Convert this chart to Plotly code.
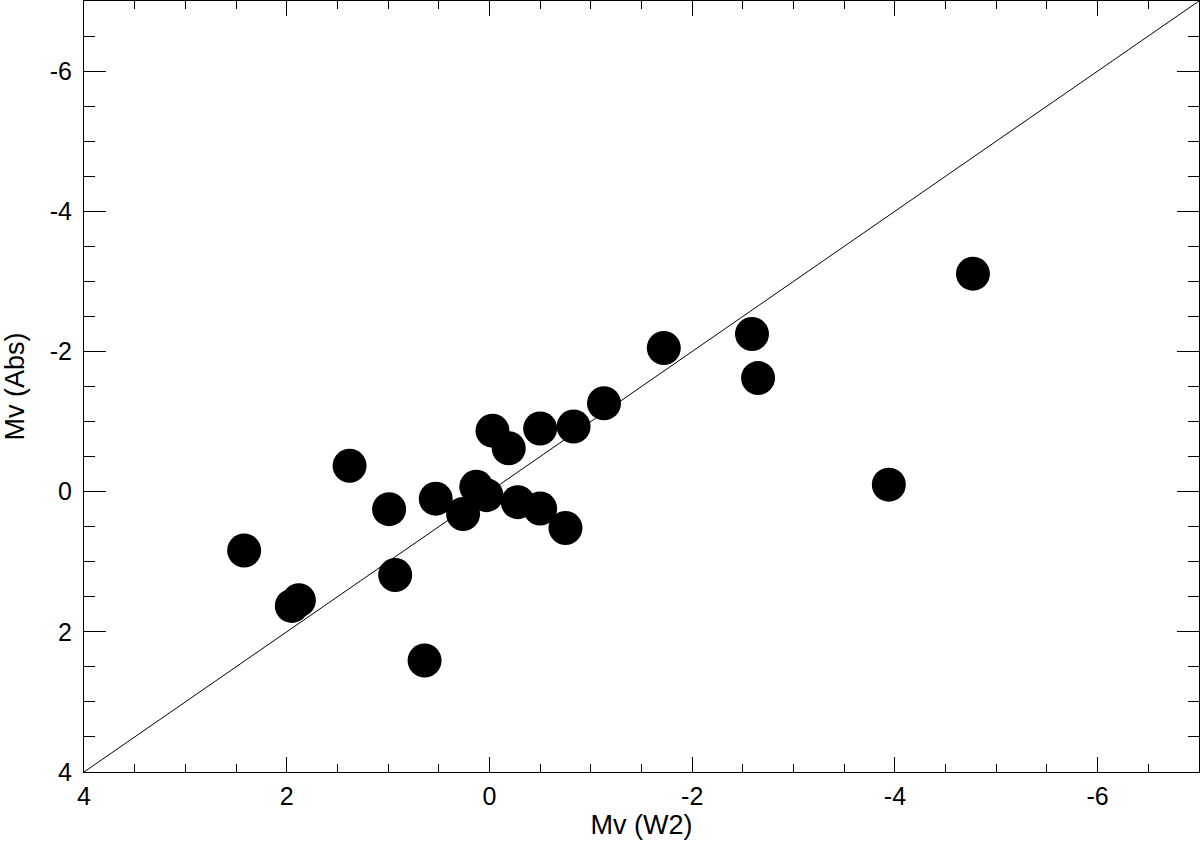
import plotly.graph_objects as go

# Mv(W2) vs Mv(Abs)
MV_W2 = [2.42, 1.95, 1.88, 1.38, 0.99, 0.93, 0.64, 0.53, 0.26, 0.13, 0.03,
         -0.03, -0.19, -0.28, -0.50, -0.50, -0.75, -0.83, -1.13, -1.72,
         -2.59, -2.65, -3.94, -4.77]
MV_ABS = [0.84, 1.63, 1.55, -0.37, 0.25, 1.19, 2.41, 0.10, 0.32, -0.07, 0.05,
          -0.87, -0.62, 0.15, 0.24, -0.90, 0.52, -0.93, -1.26, -2.05,
          -2.25, -1.62, -0.10, -3.11]

ONE_TO_ONE = [4, -7]                      # y = x line end points
TICK_VALS = [4, 2, 0, -2, -4, -6]
TICK_TEXT = ["4", "2", "0", "-2", "-4", "-6"]

FONT = "Liberation Sans, Arial, Helvetica, sans-serif"

fig = go.Figure()
fig.add_trace(go.Scatter(x=ONE_TO_ONE, y=ONE_TO_ONE, mode="lines",
                         line=dict(color="black", width=1), hoverinfo="skip"))
fig.add_trace(go.Scatter(x=MV_W2, y=MV_ABS, mode="markers",
                         marker=dict(color="black", size=34, line_width=0)))


def axis(title, ticklen, minorlen):
    return dict(range=[4, -7], tickmode="array", tickvals=TICK_VALS, ticktext=TICK_TEXT,
                ticks="inside", ticklen=ticklen, tickwidth=1, tickcolor="black",
                minor=dict(tickmode="linear", tick0=0, dtick=0.5, ticks="inside",
                           ticklen=minorlen, tickwidth=1, tickcolor="black"),
                showline=True, linecolor="black", linewidth=1, mirror="ticks",
                showgrid=False, zeroline=False,
                tickfont=dict(family=FONT, size=25, color="black"),
                title=dict(text=title, font=dict(family=FONT, size=27, color="black")))


fig.update_layout(
    width=1200, height=852, showlegend=False,
    margin=dict(l=84, r=1, t=1, b=80),
    paper_bgcolor="white", plot_bgcolor="white",
    xaxis=axis("Mv (W2)", 15, 8),
    yaxis=axis("Mv (Abs)", 22, 11),
)
fig.update_xaxes(ticklabelstandoff=2, title_standoff=4)
fig.update_yaxes(ticklabelstandoff=6, title_standoff=19)

# page body margin off so the figure sits at the window's corner
fig.write_html("out.html", config={"displayModeBar": False},
               post_script="document.body.style.margin='0';")
